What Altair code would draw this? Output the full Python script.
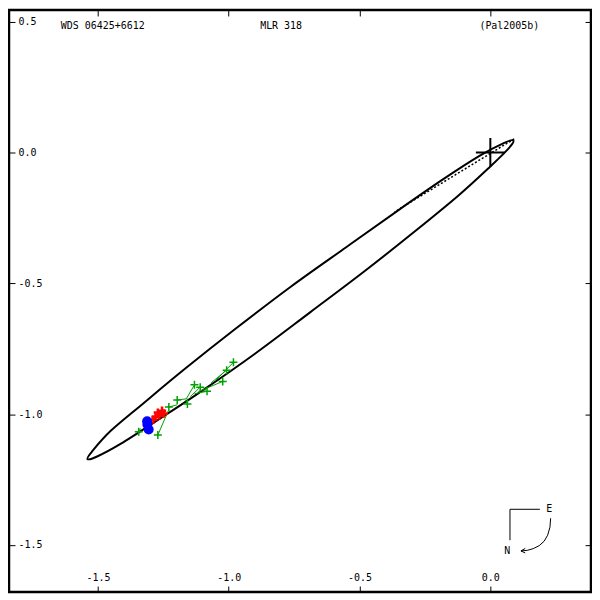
import altair as alt
import pandas as pd

# ---- data (arcsec) ----
# apparent orbit, read around the curve (upper edge from the east tip, then lower edge)
orbit_x = [0.088, 0.051, -0.040, -0.177, -0.351, -0.551, -0.763, -0.973, -1.165, -1.328, -1.450,
           -1.522, -1.540,
           -1.503, -1.412, -1.275, -1.101, -0.901, -0.689, -0.480, -0.287, -0.124, -0.002, 0.070]
orbit_y = [0.046, 0.036, -0.012, -0.100, -0.220, -0.362, -0.513, -0.673, -0.825, -0.960, -1.063,
           -1.142, -1.172,
           -1.162, -1.113, -1.025, -0.910, -0.770, -0.611, -0.453, -0.300, -0.166, -0.055, 0.016]

node_x = [0.091, -0.366]
node_y = [0.052, -0.227]

green_x = [-0.982, -1.008, -1.023, -1.131, -1.109, -1.083, -1.158, -1.197, -1.229, -1.344, -1.271]
green_y = [-0.802, -0.832, -0.875, -0.888, -0.897, -0.913, -0.961, -0.946, -0.973, -1.067, -1.080]
calc_x = [-1.048, -1.067, -1.116, -1.162, -1.147, -1.131, -1.166, -1.158, -1.196, -1.337, -1.231]
calc_y = [-0.869, -0.880, -0.914, -0.941, -0.933, -0.922, -0.945, -0.941, -0.964, -1.055, -0.987]

red_x = [-1.280, -1.271, -1.255, -1.248, -1.288, -1.265]
red_y = [-1.010, -0.994, -0.987, -0.998, -1.021, -1.006]

blue_x = [-1.312, -1.311, -1.306]
blue_y = [-1.027, -1.040, -1.059]

x_ticks = [-1.5, -1.0, -0.5, 0.0]
y_ticks = [0.5, 0.0, -0.5, -1.0, -1.5]

header_text = ["WDS 06425+6612", "MLR 318", "(Pal2005b)"]

# ---- layout ----
W = H = 584
FONT = "DejaVu Sans Mono"
xs = alt.Scale(domain=[-1.84, 0.3848], nice=False, zero=False)
ys = alt.Scale(domain=[-1.68, 0.5448], nice=False, zero=False)
lab = "(datum.value < 0 ? '-' : '') + format(abs(datum.value), '.1f')"
PLUS = "M-1,0L1,0M0,-1L0,1"

ax_bottom = alt.Axis(orient="bottom", values=x_ticks, offset=-6, tickSize=6, tickColor="black",
                     domain=False, grid=False, labelExpr=lab, labelPadding=-15,
                     labelBaseline="middle", labelFont=FONT, labelFontSize=10,
                     labelColor="black", title=None, labelOverlap=False, labelFlush=False)
ax_left = alt.Axis(orient="left", values=y_ticks, offset=-6, tickSize=6, tickColor="black",
                   domain=False, grid=False, labelExpr=lab, labelPadding=-9, labelAlign="left",
                   labelBaseline="middle", labelFont=FONT, labelFontSize=10,
                   labelColor="black", title=None, labelOverlap=False, labelFlush=False)
ax_top = alt.Axis(orient="top", values=x_ticks, offset=-6, tickSize=6, tickColor="black",
                  domain=False, grid=False, labels=False, title=None)
ax_right = alt.Axis(orient="right", values=y_ticks, offset=-6, tickSize=6, tickColor="black",
                    domain=False, grid=False, labels=False, title=None)

orbit_df = pd.DataFrame({"x": orbit_x, "y": orbit_y, "i": range(len(orbit_x))})
orbit = alt.Chart(orbit_df).mark_line(color="black", strokeWidth=2,
                                      interpolate="cardinal-closed").encode(
    x=alt.X("x:Q", scale=xs, axis=ax_bottom),
    y=alt.Y("y:Q", scale=ys, axis=ax_left),
    order="i:Q",
)

node_df = pd.DataFrame({"x": node_x, "y": node_y, "i": [0, 1]})
node = alt.Chart(node_df).mark_line(color="black", strokeWidth=1.5, strokeDash=[2, 2]).encode(
    x=alt.X("x:Q", scale=xs, axis=None), y=alt.Y("y:Q", scale=ys, axis=None), order="i:Q")

oc_df = pd.DataFrame({"x": green_x, "y": green_y, "x2": calc_x, "y2": calc_y})
oc = alt.Chart(oc_df).mark_rule(color="#00A000", strokeWidth=1).encode(
    x=alt.X("x:Q", scale=xs, axis=None), y=alt.Y("y:Q", scale=ys, axis=None),
    x2="x2:Q", y2="y2:Q")
green = alt.Chart(oc_df).mark_point(shape=PLUS, size=64, color="#00A000", filled=False,
                                    strokeWidth=1.5, opacity=1).encode(
    x=alt.X("x:Q", scale=xs, axis=None), y=alt.Y("y:Q", scale=ys, axis=None))

red_df = pd.DataFrame({"x": red_x, "y": red_y})
red = alt.Chart(red_df).mark_point(shape=PLUS, size=70, color="#FF0000", filled=False,
                                   strokeWidth=2.5, opacity=1).encode(
    x=alt.X("x:Q", scale=xs, axis=None), y=alt.Y("y:Q", scale=ys, axis=None))

blue_df = pd.DataFrame({"x": blue_x, "y": blue_y})
blue = alt.Chart(blue_df).mark_circle(size=100, color="#0000FF", opacity=1).encode(
    x=alt.X("x:Q", scale=xs, axis=None), y=alt.Y("y:Q", scale=ys, axis=None))

origin_df = pd.DataFrame({"x": [0.0], "y": [0.0]})
origin = alt.Chart(origin_df).mark_point(shape=PLUS, size=841, color="black", filled=False,
                                         strokeWidth=2, opacity=1).encode(
    x=alt.X("x:Q", scale=xs, axis=ax_top), y=alt.Y("y:Q", scale=ys, axis=ax_right))

# header texts
hdr_df = pd.DataFrame({"t": header_text, "px": [52, 252, 472]})
header = alt.Chart(hdr_df).mark_text(align="left", baseline="middle", font=FONT, fontSize=10,
                                     color="black").encode(
    x=alt.X("px:Q", scale=None), y=alt.value(16), text="t:N")

# compass (pixel annotation)
comp_px = [502.7, 532.7, 502.7, 502.7,
           543.5, 542.8, 540.5, 537, 532, 526, 520, 513.7,
           518, 513.7, 518]
comp_py = [501, 501, 501, 532,
           510, 519, 527, 533, 537.5, 540.5, 542.2, 542.8,
           540.3, 542.8, 544.8]
comp_seg = [0, 0, 1, 1, 2, 2, 2, 2, 2, 2, 2, 2, 3, 3, 3]
comp_df = pd.DataFrame({"px": comp_px, "py": comp_py, "s": comp_seg, "i": range(len(comp_px))})
compass = alt.Chart(comp_df).mark_line(color="black", strokeWidth=1).encode(
    x=alt.X("px:Q", scale=None), y=alt.Y("py:Q", scale=None), detail="s:N", order="i:Q")
comp_txt = pd.DataFrame({"t": ["E", "N"], "px": [542, 500], "py": [501, 543]})
compass_text = alt.Chart(comp_txt).mark_text(font=FONT, fontSize=10, color="black",
                                             baseline="middle").encode(
    x=alt.X("px:Q", scale=None), y=alt.Y("py:Q", scale=None), text="t:N")

chart = (
    alt.layer(orbit, node, oc, green, red, blue, origin, header, compass, compass_text)
    .resolve_axis(x="independent", y="independent")
    .properties(width=W, height=H)
    .configure(padding=0, background="white")
    .configure_view(stroke="black", strokeWidth=2.5)
)

chart.save("out.html", embed_options={"renderer": "svg", "actions": False})
